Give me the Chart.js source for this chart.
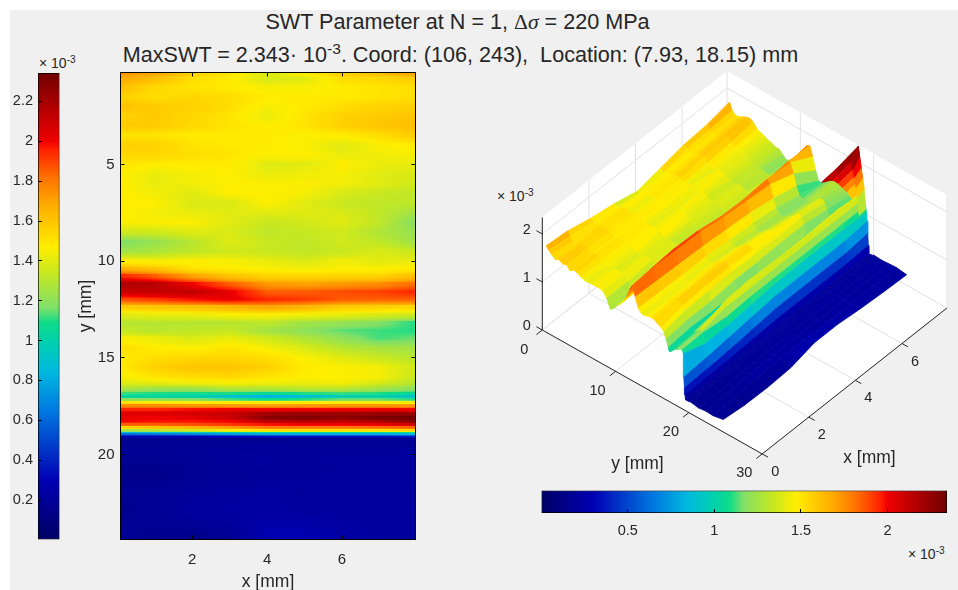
<!DOCTYPE html>
<html>
<head>
<meta charset="utf-8">
<title>SWT Parameter</title>
<script src="https://cdn.jsdelivr.net/npm/chart.js@4/dist/chart.umd.min.js"></script>
<style>
  html, body { margin: 0; padding: 0; background: #fff; overflow: hidden; }
  #fig { position: absolute; left: 10px; top: 10px; width: 948px; height: 580px; background: #f0f0f0; }
  canvas { position: absolute; }
  .txt { position: absolute; font-family: "Liberation Sans", sans-serif; color: #262626; white-space: nowrap; line-height: 1; }
  .txt sup { font-size: 0.72em; line-height: 0; vertical-align: 0.5em; }
  .ttl { font-size: 21.6px; transform: translateX(-50%); }
  .sym { font-family: "Liberation Serif", serif; }
  .mul { font-size: 14px; }
</style>
</head>
<body>
<div id="fig"></div>
<div class="txt ttl" style="left:457.5px;top:11px">SWT Parameter at N = 1, <span class="sym">Δ<i>σ</i></span> = 220 MPa</div>
<div class="txt ttl" style="left:460.5px;top:44px">MaxSWT = 2.343· 10<sup>-3</sup>. Coord: (106, 243),&nbsp; Location: (7.93, 18.15) mm</div>
<div class="txt mul" style="left:39px;top:56px">× 10<sup>-3</sup></div>
<div class="txt mul" style="left:497px;top:189px">× 10<sup>-3</sup></div>
<div class="txt mul" style="left:908px;top:547px">× 10<sup>-3</sup></div>
<canvas id="leftBar" width="70" height="490" style="left:0;top:60px;width:70px;height:490px"></canvas>
<canvas id="heat" width="365" height="530" style="left:70px;top:60px;width:365px;height:530px"></canvas>
<canvas id="surf" width="478" height="430" style="left:480px;top:60px;width:478px;height:430px"></canvas>
<canvas id="bottomBar" width="428" height="60" style="left:530px;top:480px;width:428px;height:60px"></canvas>
<script>
// grid of the SWT field, all values x 1e-3
const xCols = [0.09, 1, 2, 3, 4, 5, 6, 7, 7.96];
const yRows = [0.24, 0.6, 1, 1.5, 2, 2.5, 3, 3.5, 4, 4.5, 5, 5.5, 6, 6.5, 7, 7.5, 8, 8.5, 9, 9.5,
  10, 10.4, 10.8, 11.2, 11.6, 12, 12.4, 12.8, 13.2, 13.6, 14, 14.5, 15, 15.5, 16, 16.3, 16.6, 16.9,
  17.05, 17.2, 17.35, 17.5, 17.7, 17.9, 18.1, 18.3, 18.5, 18.65, 18.8, 18.95, 19.02, 19.1, 19.18, 19.25, 19.6,
  20, 21, 22, 23, 24.4];
const swtValues = [
  [1.74, 1.70, 1.58, 1.50, 1.38, 1.48, 1.58, 1.62, 1.72],
  [1.68, 1.62, 1.52, 1.48, 1.38, 1.40, 1.52, 1.54, 1.58],
  [1.62, 1.54, 1.50, 1.48, 1.45, 1.45, 1.48, 1.50, 1.52],
  [1.56, 1.52, 1.54, 1.52, 1.48, 1.48, 1.48, 1.50, 1.52],
  [1.60, 1.58, 1.56, 1.52, 1.45, 1.48, 1.52, 1.55, 1.56],
  [1.56, 1.58, 1.54, 1.50, 1.42, 1.50, 1.56, 1.58, 1.60],
  [1.58, 1.58, 1.54, 1.50, 1.47, 1.50, 1.56, 1.60, 1.62],
  [1.50, 1.50, 1.48, 1.48, 1.48, 1.46, 1.48, 1.52, 1.58],
  [1.56, 1.56, 1.50, 1.48, 1.48, 1.46, 1.40, 1.46, 1.48],
  [1.54, 1.54, 1.52, 1.50, 1.46, 1.48, 1.42, 1.44, 1.45],
  [1.50, 1.48, 1.48, 1.48, 1.40, 1.40, 1.47, 1.42, 1.42],
  [1.47, 1.42, 1.45, 1.47, 1.42, 1.44, 1.45, 1.40, 1.38],
  [1.47, 1.42, 1.44, 1.47, 1.46, 1.46, 1.44, 1.40, 1.36],
  [1.48, 1.44, 1.40, 1.47, 1.47, 1.45, 1.38, 1.34, 1.32],
  [1.48, 1.47, 1.38, 1.38, 1.47, 1.40, 1.34, 1.32, 1.32],
  [1.48, 1.44, 1.42, 1.40, 1.40, 1.40, 1.38, 1.32, 1.25],
  [1.46, 1.46, 1.46, 1.40, 1.34, 1.36, 1.40, 1.32, 1.18],
  [1.36, 1.36, 1.40, 1.38, 1.32, 1.34, 1.36, 1.28, 1.22],
  [1.17, 1.22, 1.30, 1.40, 1.34, 1.32, 1.36, 1.32, 1.24],
  [1.24, 1.27, 1.32, 1.36, 1.34, 1.32, 1.34, 1.38, 1.34],
  [1.46, 1.44, 1.46, 1.45, 1.42, 1.38, 1.44, 1.40, 1.42],
  [1.65, 1.60, 1.50, 1.48, 1.46, 1.44, 1.46, 1.46, 1.48],
  [1.95, 1.85, 1.70, 1.60, 1.55, 1.55, 1.55, 1.55, 1.62],
  [2.18, 2.15, 2.00, 1.85, 1.72, 1.70, 1.72, 1.75, 1.82],
  [2.10, 2.12, 2.12, 2.02, 1.85, 1.85, 1.88, 1.90, 1.95],
  [1.88, 1.92, 1.98, 2.02, 1.95, 1.92, 1.86, 1.85, 1.85],
  [1.58, 1.60, 1.62, 1.65, 1.70, 1.65, 1.58, 1.56, 1.55],
  [1.40, 1.42, 1.42, 1.46, 1.46, 1.44, 1.42, 1.38, 1.36],
  [1.30, 1.30, 1.30, 1.30, 1.32, 1.25, 1.22, 1.18, 1.10],
  [1.33, 1.30, 1.32, 1.33, 1.25, 1.20, 1.14, 1.12, 1.10],
  [1.45, 1.42, 1.38, 1.42, 1.36, 1.28, 1.20, 1.12, 1.15],
  [1.52, 1.48, 1.46, 1.50, 1.45, 1.38, 1.30, 1.26, 1.25],
  [1.47, 1.52, 1.54, 1.54, 1.52, 1.46, 1.40, 1.34, 1.30],
  [1.48, 1.56, 1.60, 1.60, 1.56, 1.48, 1.46, 1.44, 1.36],
  [1.45, 1.50, 1.53, 1.54, 1.50, 1.47, 1.47, 1.45, 1.34],
  [1.40, 1.42, 1.44, 1.46, 1.44, 1.43, 1.45, 1.38, 1.30],
  [1.28, 1.25, 1.25, 1.30, 1.30, 1.32, 1.32, 1.25, 1.20],
  [1.12, 1.10, 1.08, 1.10, 1.05, 1.10, 1.12, 1.10, 1.05],
  [1.03, 1.02, 1.00, 0.90, 0.82, 0.88, 0.97, 1.00, 0.90],
  [1.20, 1.20, 1.18, 1.12, 1.08, 1.10, 1.15, 1.15, 1.10],
  [1.50, 1.48, 1.46, 1.45, 1.45, 1.45, 1.45, 1.45, 1.42],
  [1.75, 1.75, 1.72, 1.72, 1.70, 1.72, 1.72, 1.72, 1.72],
  [1.95, 1.95, 1.98, 2.00, 2.00, 2.00, 2.00, 2.00, 2.00],
  [2.05, 2.05, 2.08, 2.10, 2.20, 2.22, 2.22, 2.22, 2.22],
  [2.02, 2.00, 2.03, 2.10, 2.28, 2.30, 2.26, 2.32, 2.34],
  [2.00, 1.98, 1.98, 2.00, 2.15, 2.18, 2.14, 2.20, 2.28],
  [1.85, 1.85, 1.88, 1.92, 1.98, 2.00, 2.00, 2.02, 2.10],
  [1.55, 1.60, 1.65, 1.72, 1.80, 1.80, 1.80, 1.82, 1.85],
  [1.25, 1.30, 1.35, 1.45, 1.50, 1.50, 1.50, 1.50, 1.55],
  [0.85, 0.90, 0.95, 1.00, 1.05, 1.05, 1.05, 1.05, 1.10],
  [0.62, 0.65, 0.70, 0.75, 0.80, 0.80, 0.80, 0.80, 0.85],
  [0.40, 0.42, 0.45, 0.50, 0.55, 0.55, 0.55, 0.55, 0.60],
  [0.27, 0.28, 0.29, 0.31, 0.33, 0.33, 0.33, 0.33, 0.36],
  [0.17, 0.17, 0.17, 0.17, 0.17, 0.18, 0.18, 0.18, 0.19],
  [0.17, 0.17, 0.18, 0.19, 0.20, 0.20, 0.20, 0.20, 0.20],
  [0.18, 0.18, 0.19, 0.21, 0.21, 0.21, 0.21, 0.21, 0.22],
  [0.15, 0.15, 0.17, 0.19, 0.20, 0.20, 0.21, 0.21, 0.21],
  [0.17, 0.18, 0.21, 0.22, 0.23, 0.21, 0.22, 0.22, 0.22],
  [0.16, 0.18, 0.22, 0.23, 0.23, 0.22, 0.22, 0.21, 0.23],
  [0.20, 0.15, 0.14, 0.17, 0.30, 0.30, 0.25, 0.22, 0.20]
];

// the 3D view reads differently from the map between y = 10 and 19, those rows come from its own outline
const ridgeY = [10, 10.4, 10.8, 11.2, 11.6, 12, 12.4, 12.8, 13.2, 13.6, 14, 14.5, 15, 15.5, 16, 16.3, 16.6, 16.9,
  17.05, 17.2, 17.35, 17.5, 17.7, 17.9, 18.1, 18.3, 18.5, 18.65, 18.8, 18.95];
const ridgeValues = [
  [1.35, 1.38, 1.42, 1.42, 1.40, 1.38, 1.40, 1.42, 1.45],
  [1.40, 1.42, 1.50, 1.50, 1.48, 1.46, 1.48, 1.52, 1.60],
  [1.50, 1.55, 1.60, 1.60, 1.55, 1.55, 1.60, 1.65, 1.72],
  [1.62, 1.65, 1.72, 1.72, 1.65, 1.65, 1.72, 1.78, 1.75],
  [1.80, 1.88, 1.92, 1.90, 1.82, 1.80, 1.84, 1.80, 1.55],
  [1.92, 1.96, 1.94, 1.92, 1.84, 1.80, 1.76, 1.60, 1.30],
  [1.72, 1.70, 1.68, 1.66, 1.62, 1.58, 1.50, 1.38, 1.12],
  [1.52, 1.50, 1.48, 1.48, 1.44, 1.40, 1.34, 1.22, 1.11],
  [1.45, 1.44, 1.42, 1.40, 1.38, 1.32, 1.27, 1.18, 1.15],
  [1.44, 1.42, 1.44, 1.42, 1.37, 1.30, 1.24, 1.18, 1.20],
  [1.46, 1.44, 1.44, 1.46, 1.40, 1.32, 1.26, 1.20, 1.25],
  [1.48, 1.50, 1.48, 1.52, 1.47, 1.40, 1.32, 1.26, 1.29],
  [1.47, 1.52, 1.54, 1.54, 1.52, 1.44, 1.36, 1.30, 1.28],
  [1.42, 1.56, 1.60, 1.60, 1.56, 1.48, 1.44, 1.38, 1.25],
  [1.38, 1.50, 1.53, 1.54, 1.50, 1.47, 1.47, 1.42, 1.22],
  [1.33, 1.42, 1.44, 1.46, 1.44, 1.43, 1.45, 1.36, 1.20],
  [1.20, 1.25, 1.25, 1.30, 1.30, 1.32, 1.32, 1.25, 1.16],
  [1.05, 1.10, 1.08, 1.10, 1.05, 1.10, 1.12, 1.10, 1.12],
  [0.98, 1.00, 1.00, 0.92, 0.85, 0.90, 0.97, 1.00, 1.09],
  [1.00, 1.02, 1.05, 1.00, 0.95, 1.00, 1.05, 1.08, 1.10],
  [1.02, 1.05, 1.10, 1.08, 1.05, 1.08, 1.12, 1.15, 1.12],
  [1.05, 1.08, 1.15, 1.15, 1.12, 1.15, 1.18, 1.22, 1.15],
  [1.08, 1.10, 1.20, 1.22, 1.20, 1.22, 1.25, 1.28, 1.20],
  [1.10, 1.12, 1.25, 1.28, 1.27, 1.28, 1.30, 1.33, 1.25],
  [1.12, 1.15, 1.30, 1.34, 1.33, 1.34, 1.36, 1.38, 1.30],
  [1.14, 1.18, 1.36, 1.40, 1.38, 1.40, 1.40, 1.42, 1.38],
  [1.16, 1.20, 1.42, 1.46, 1.44, 1.42, 1.42, 1.44, 1.44],
  [1.17, 1.20, 1.30, 1.30, 1.30, 1.30, 1.30, 1.30, 1.30],
  [1.17, 1.18, 1.12, 1.15, 1.15, 1.15, 1.15, 1.15, 1.15],
  [1.10, 0.95, 0.95, 1.00, 1.05, 1.05, 1.05, 1.05, 1.02]
];

// red fin showing behind the crest at the far end of the 3D view
const finX = [6.3, 7, 7.5, 7.93];
const finY = [17.9, 18.05, 18.2, 18.35, 18.5, 18.7];
const finValues = [
  [2.18, 2.22, 2.28, 2.33],
  [2.05, 2.08, 2.14, 2.18],
  [1.90, 1.94, 1.98, 2.02],
  [1.76, 1.80, 1.84, 1.86],
  [1.62, 1.66, 1.70, 1.72],
  [1.44, 1.48, 1.50, 1.52]
];

// narrow column in front of the fin, at the far edge of the surface
const edgeX = [7.65, 7.93];
const edgeY = [17.9, 18.1, 18.3, 18.5, 18.7, 18.9];
const edgeValues = [
  [2.15, 2.33],
  [1.95, 2.10],
  [1.80, 1.90],
  [1.60, 1.70],
  [1.40, 1.50],
  [1.08, 1.10]
];

// colormap
const cmapValues = [0, 0.3, 0.645, 0.84, 0.99, 1.09, 1.165, 1.34, 1.47, 1.69, 1.82, 1.96, 2.0, 2.15, 2.343];
const cmapColors = ["#000064", "#0000b4", "#0078e0", "#00b8e0", "#00d0b0", "#10dc88", "#80e068", "#c8e820",
  "#ffee00", "#ffa800", "#ff7000", "#ff2000", "#f00000", "#b80000", "#700000"];

const barRange = [0.002, 2.343];
const leftBarTicks = [0.2, 0.4, 0.6, 0.8, 1, 1.2, 1.4, 1.6, 1.8, 2, 2.2];
const bottomBarTicks = [0.5, 1, 1.5, 2];
const heatXTicks = [2, 4, 6];
const heatYTicks = [5, 10, 15, 20];
const surfXTicks = [0, 2, 4, 6];
const surfYTicks = [0, 10, 20, 30];
const surfZTicks = [0, 1, 2];

const TEXT = "#262626";
const FONT = "'Liberation Sans', sans-serif";
Chart.defaults.animation = false;
Chart.defaults.events = [];
Chart.defaults.font.family = FONT;
Chart.defaults.color = TEXT;
Chart.defaults.plugins.legend.display = false;
Chart.defaults.plugins.tooltip.enabled = false;
Chart.defaults.responsive = false;

const rgbStops = cmapColors.map((c) => [1, 3, 5].map((i) => parseInt(c.slice(i, i + 2), 16)));

function colorOf(v) {
  let i = 0;
  while (i < cmapValues.length - 2 && v > cmapValues[i + 1]) i++;
  const t = Math.min(1, Math.max(0, (v - cmapValues[i]) / (cmapValues[i + 1] - cmapValues[i])));
  return rgbStops[i].map((c, k) => Math.round(c + (rgbStops[i + 1][k] - c) * t));
}

function cssColor(v) {
  return "rgb(" + colorOf(v).join(",") + ")";
}

function barGradient(chart, horizontal) {
  const a = chart.chartArea;
  if (!a) return "#000";
  const g = horizontal
    ? chart.ctx.createLinearGradient(a.left, 0, a.right, 0)
    : chart.ctx.createLinearGradient(0, a.bottom, 0, a.top);
  cmapValues.forEach((v, i) => {
    g.addColorStop(Math.min(1, (v - cmapValues[0]) / (barRange[1] - cmapValues[0])), cmapColors[i]);
  });
  return g;
}

function inwardGrid() {
  return { drawOnChartArea: false, color: "#000", tickColor: "#000", tickLength: -4, tickWidth: 1, z: 1 };
}

// fixed box size, and no room kept for half of the first and last label
function fixBox(s, size) {
  if (s.isHorizontal()) s.height = size;
  else s.width = size;
  s.paddingTop = s.paddingBottom = s.paddingLeft = s.paddingRight = 0;
}

// left colour bar
new Chart(document.getElementById("leftBar"), {
  type: "bar",
  data: {
    labels: ["SWT"],
    datasets: [{
      data: [barRange],
      backgroundColor: (ctx) => barGradient(ctx.chart, false),
      borderColor: "#000",
      borderWidth: 1,
      borderSkipped: false,
      barPercentage: 1,
      categoryPercentage: 1
    }]
  },
  options: {
    layout: { padding: { top: 13, bottom: 10.5, right: 10.5, left: 0 } },
    scales: {
      x: { display: false },
      y: {
        min: barRange[0],
        max: barRange[1],
        grid: inwardGrid(),
        border: { display: false },
        afterBuildTicks: (s) => { s.ticks = leftBarTicks.map((value) => ({ value })); },
        afterFit: (s) => fixBox(s, 38),
        ticks: { padding: 9, autoSkip: false, font: { size: 14.5 }, color: TEXT, callback: (v) => String(v) }
      }
    }
  }
});

// bottom colour bar
new Chart(document.getElementById("bottomBar"), {
  type: "bar",
  data: {
    labels: ["SWT"],
    datasets: [{
      data: [barRange],
      backgroundColor: (ctx) => barGradient(ctx.chart, true),
      borderColor: "#000",
      borderWidth: 1,
      borderSkipped: false,
      barPercentage: 1,
      categoryPercentage: 1
    }]
  },
  options: {
    indexAxis: "y",
    layout: { padding: { top: 10.5, left: 11.5, right: 11, bottom: 0 } },
    scales: {
      y: { display: false },
      x: {
        min: barRange[0],
        max: barRange[1],
        grid: inwardGrid(),
        border: { display: false },
        afterBuildTicks: (s) => { s.ticks = bottomBarTicks.map((value) => ({ value })); },
        afterFit: (s) => fixBox(s, 27),
        ticks: { padding: 13, autoSkip: false, maxRotation: 0, font: { size: 14.5 }, color: TEXT, callback: (v) => String(v) }
      }
    }
  }
});

// heat map: every cell is one point, its style is the cell shaded between its four corners
const heatCells = [];
for (let j = 0; j < yRows.length - 1; j++) {
  for (let i = 0; i < xCols.length - 1; i++) {
    heatCells.push({ x: (xCols[i] + xCols[i + 1]) / 2, y: (yRows[j] + yRows[j + 1]) / 2, i, j });
  }
}

const cellCache = new Map();
function cellImage(ctx) {
  const cell = ctx.raw;
  if (!cell) return "rect";
  const key = cell.i + ":" + cell.j;
  if (cellCache.has(key)) return cellCache.get(key);
  const { x: sx, y: sy } = ctx.chart.scales;
  const pw = Math.abs(sx.getPixelForValue(xCols[cell.i + 1]) - sx.getPixelForValue(xCols[cell.i]));
  const ph = Math.abs(sy.getPixelForValue(yRows[cell.j + 1]) - sy.getPixelForValue(yRows[cell.j]));
  // scales have no size yet on the first pass
  if (!(pw > 0 && ph > 0)) return "rect";
  const w = Math.ceil(pw) + 4;
  const h = Math.ceil(ph) + 4;
  const c = document.createElement("canvas");
  c.width = w;
  c.height = h;
  const g = c.getContext("2d");
  const img = g.createImageData(w, h);
  const row0 = swtValues[cell.j];
  const row1 = swtValues[cell.j + 1];
  for (let b = 0; b < h; b++) {
    const v = Math.min(1, Math.max(0, (b + 0.5 - h / 2) / ph + 0.5));
    for (let a = 0; a < w; a++) {
      const u = Math.min(1, Math.max(0, (a + 0.5 - w / 2) / pw + 0.5));
      const top = row0[cell.i] + (row0[cell.i + 1] - row0[cell.i]) * u;
      const bot = row1[cell.i] + (row1[cell.i + 1] - row1[cell.i]) * u;
      const rgb = colorOf(top + (bot - top) * v);
      const p = (b * w + a) * 4;
      img.data[p] = rgb[0];
      img.data[p + 1] = rgb[1];
      img.data[p + 2] = rgb[2];
      img.data[p + 3] = 255;
    }
  }
  g.putImageData(img, 0, 0);
  cellCache.set(key, c);
  return c;
}

new Chart(document.getElementById("heat"), {
  type: "scatter",
  data: {
    datasets: [{ data: heatCells, pointStyle: cellImage, pointRadius: 1, pointBorderWidth: 0 }]
  },
  options: {
    layout: { padding: { top: 12.5, right: 19.5, left: 0, bottom: 0 } },
    scales: {
      x: {
        min: xCols[0],
        max: xCols[xCols.length - 1],
        grid: inwardGrid(),
        border: { color: "#000", z: 1 },
        afterBuildTicks: (s) => { s.ticks = heatXTicks.map((value) => ({ value })); },
        afterFit: (s) => fixBox(s, 50.5),
        ticks: { padding: 15, autoSkip: false, maxRotation: 0, font: { size: 15 }, color: TEXT, callback: (v) => String(v) },
        title: { display: true, text: "x [mm]", font: { size: 17.5 }, color: TEXT, padding: { top: 0, bottom: -3 } }
      },
      y: {
        min: yRows[0],
        max: yRows[yRows.length - 1],
        reverse: true,
        grid: inwardGrid(),
        border: { color: "#000", z: 1 },
        afterBuildTicks: (s) => { s.ticks = heatYTicks.map((value) => ({ value })); },
        afterFit: (s) => fixBox(s, 50.5),
        ticks: { padding: 10, autoSkip: false, font: { size: 15 }, color: TEXT, callback: (v) => String(v) },
        title: { display: true, text: "y [mm]", font: { size: 17.5 }, color: TEXT, padding: { top: 6, bottom: 0 } }
      },
      x2: {
        position: "top",
        min: xCols[0],
        max: xCols[xCols.length - 1],
        grid: inwardGrid(),
        border: { color: "#000", z: 1 },
        afterBuildTicks: (s) => { s.ticks = heatXTicks.map((value) => ({ value })); },
        afterFit: (s) => fixBox(s, 0),
        ticks: { display: false }
      },
      y2: {
        position: "right",
        min: yRows[0],
        max: yRows[yRows.length - 1],
        reverse: true,
        grid: inwardGrid(),
        border: { color: "#000", z: 1 },
        afterBuildTicks: (s) => { s.ticks = heatYTicks.map((value) => ({ value })); },
        afterFit: (s) => fixBox(s, 0),
        ticks: { display: false }
      }
    }
  }
});

// 3D view: orthographic projection of (x, y, z) to page pixels, fitted to the box corners
const view = { ox: 542.3, oy: 330, xx: 23.3, xy: -18.4, yx: 7.33, yy: 4.13, zy: -48 };
const boxMax = { x: 7.93, y: 30, z: 2.343 };
const surfCanvas = document.getElementById("surf");
const surfOrigin = { left: 480, top: 60 };

function proj(x, y, z) {
  return { x: view.ox + view.xx * x + view.yx * y, y: view.oy + view.xy * x + view.yy * y + view.zy * z };
}

function poly(points, fillColor, edgeColor, edgeWidth) {
  return {
    showLine: true,
    data: points,
    fill: fillColor ? "shape" : false,
    backgroundColor: fillColor || "transparent",
    borderColor: edgeColor,
    borderWidth: edgeWidth,
    pointRadius: 0,
    tension: 0
  };
}

function segment(a, b, color, width) {
  return poly([proj(...a), proj(...b)], null, color, width);
}

const GRID = "#e2e2e2";
const paintOrder = [];
const M = boxMax;
const wallCorners = [
  [[0, 0, 0], [M.x, 0, 0], [M.x, M.y, 0], [0, M.y, 0], [0, 0, 0]],
  [[0, 0, 0], [M.x, 0, 0], [M.x, 0, M.z], [0, 0, M.z], [0, 0, 0]],
  [[M.x, 0, 0], [M.x, M.y, 0], [M.x, M.y, M.z], [M.x, 0, M.z], [M.x, 0, 0]]
];
wallCorners.forEach((w) => paintOrder.push(poly(w.map((p) => proj(...p)), "#fff", "#fff", 1)));
surfXTicks.forEach((x) => {
  paintOrder.push(segment([x, 0, 0], [x, M.y, 0], GRID, 1));
  paintOrder.push(segment([x, 0, 0], [x, 0, M.z], GRID, 1));
});
surfYTicks.forEach((y) => {
  paintOrder.push(segment([0, y, 0], [M.x, y, 0], GRID, 1));
  paintOrder.push(segment([M.x, y, 0], [M.x, y, M.z], GRID, 1));
});
surfZTicks.forEach((z) => {
  paintOrder.push(segment([0, 0, z], [M.x, 0, z], GRID, 1));
  paintOrder.push(segment([M.x, 0, z], [M.x, M.y, z], GRID, 1));
});

// facets of one mesh, far ones first; colour runs along x so the strips stay long and smooth
function pushFacets(cols, rows, values) {
  const g2d = surfCanvas.getContext("2d");
  for (let j = 0; j < rows.length - 1; j++) {
    for (let i = cols.length - 2; i >= 0; i--) {
      const v = [values[j][i], values[j][i + 1], values[j + 1][i + 1], values[j + 1][i]];
      const corners = [
        proj(cols[i], rows[j], v[0]),
        proj(cols[i + 1], rows[j], v[1]),
        proj(cols[i + 1], rows[j + 1], v[2]),
        proj(cols[i], rows[j + 1], v[3])
      ];
      corners.push(corners[0]);
      const a = proj(cols[i], rows[j], 0);
      const b = proj(cols[i + 1], rows[j], 0);
      const grad = g2d.createLinearGradient(a.x - surfOrigin.left, a.y - surfOrigin.top, b.x - surfOrigin.left, b.y - surfOrigin.top);
      grad.addColorStop(0, cssColor((v[0] + v[3]) / 2));
      grad.addColorStop(1, cssColor((v[1] + v[2]) / 2));
      paintOrder.push(poly(corners, grad, grad, 0.8));
    }
  }
}

const surfValues = yRows.map((y, j) => {
  const k = ridgeY.indexOf(y);
  return k >= 0 ? ridgeValues[k] : swtValues[j];
});
pushFacets(finX, finY, finValues);
pushFacets(xCols, yRows, surfValues);
pushFacets(edgeX, edgeY, edgeValues);

// axes and tick marks stay in front
const AXIS = "#262626";
paintOrder.push(segment([0, 0, 0], [0, M.y, 0], AXIS, 1));
paintOrder.push(segment([0, M.y, 0], [M.x, M.y, 0], AXIS, 1));
paintOrder.push(segment([0, 0, 0], [0, 0, M.z], AXIS, 1));
surfXTicks.forEach((x) => paintOrder.push(segment([x, M.y, 0], [x, M.y + 0.8, 0], AXIS, 1)));
surfYTicks.forEach((y) => paintOrder.push(segment([0, y, 0], [-0.25, y, 0], AXIS, 1)));
surfZTicks.forEach((z) => paintOrder.push(segment([0, 0, z], [0, -0.8, z], AXIS, 1)));

const surfLabels = {
  id: "surfLabels",
  afterDatasetsDraw(chart) {
    const { ctx, scales } = chart;
    const put = (text, p, dx, dy, size) => {
      ctx.font = size + "px " + FONT;
      ctx.fillText(text, scales.x.getPixelForValue(p.x) + dx, scales.y.getPixelForValue(p.y) + dy);
    };
    ctx.save();
    ctx.fillStyle = TEXT;
    ctx.textAlign = "center";
    ctx.textBaseline = "middle";
    surfXTicks.forEach((x) => put(String(x), proj(x, M.y, 0), 13, 18, 14.5));
    surfYTicks.forEach((y) => put(String(y), proj(0, y, 0), -18, 19.5, 14.5));
    surfZTicks.forEach((z) => put(String(z), proj(0, 0, z), -15.6, -4, 14.5));
    put("y [mm]", proj(0, 20, 0), -51.5, 52, 17.5);
    put("x [mm]", proj(4, M.y, 0), 14, 78, 17.5);
    ctx.restore();
  }
};

new Chart(surfCanvas, {
  type: "scatter",
  data: { datasets: paintOrder.reverse() },
  options: {
    layout: { padding: 0 },
    scales: {
      x: { display: false, min: 480, max: 958 },
      y: { display: false, min: 60, max: 490, reverse: true }
    }
  },
  plugins: [surfLabels]
});
</script>
</body>
</html>
